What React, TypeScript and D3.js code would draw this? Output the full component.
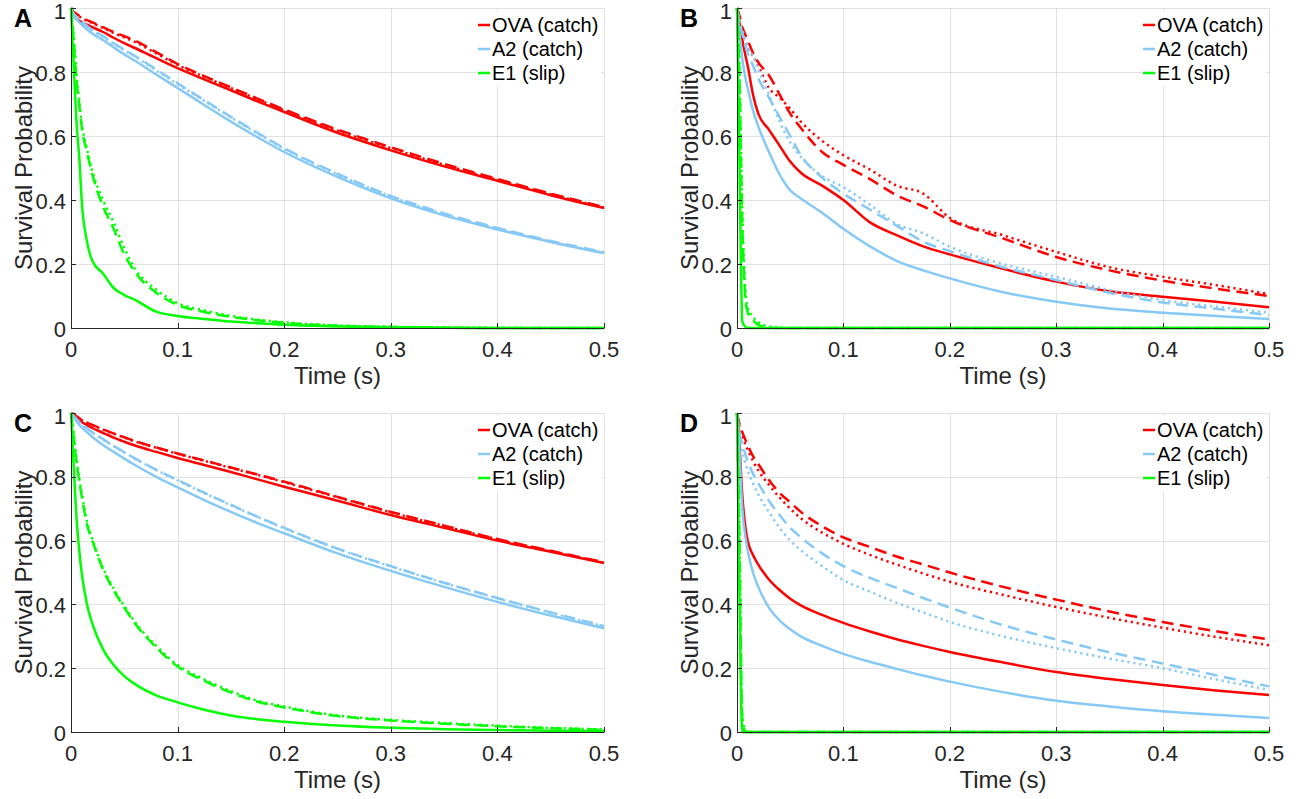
import React from 'react';
import * as d3 from 'd3';

// ---------- DATA ----------
const TIME = [0, 0.002, 0.005, 0.008, 0.01, 0.015, 0.02, 0.03, 0.04, 0.05, 0.06, 0.08, 0.1, 0.125, 0.15, 0.175, 0.2, 0.25, 0.3, 0.35, 0.4, 0.45, 0.5];
const X_TICKS = [0, 0.1, 0.2, 0.3, 0.4, 0.5];
const Y_TICKS = [0, 0.2, 0.4, 0.6, 0.8, 1];
const X_TICK_LABELS = ['0', '0.1', '0.2', '0.3', '0.4', '0.5'];
const Y_TICK_LABELS = ['0', '0.2', '0.4', '0.6', '0.8', '1'];
const PANEL_LETTERS = ['A', 'B', 'C', 'D'];
const LEGEND_LABELS = ['OVA (catch)', 'A2 (catch)', 'E1 (slip)'];
const SERIES_COLORS = ['#ff0000', '#86c9f6', '#00ff00'];
const X_LABEL = 'Time (s)';
const Y_LABEL = 'Survival Probability';

// Panel A
const A_OVA_SOLID = [1, 0.98, 0.968, 0.96, 0.955, 0.948, 0.94, 0.925, 0.907, 0.89, 0.875, 0.843, 0.812, 0.777, 0.743, 0.708, 0.675, 0.61, 0.555, 0.505, 0.46, 0.415, 0.375];
const A_OVA_DASH = [1, 0.99, 0.982, 0.975, 0.97, 0.962, 0.955, 0.94, 0.925, 0.912, 0.898, 0.862, 0.825, 0.787, 0.752, 0.717, 0.683, 0.62, 0.565, 0.513, 0.466, 0.42, 0.378];
const A_OVA_DOT = [1, 0.99, 0.98, 0.973, 0.968, 0.96, 0.953, 0.938, 0.922, 0.908, 0.894, 0.858, 0.822, 0.785, 0.75, 0.715, 0.68, 0.617, 0.562, 0.51, 0.463, 0.418, 0.376];
const A_A2_SOLID = [1, 0.98, 0.965, 0.955, 0.948, 0.933, 0.92, 0.9, 0.877, 0.855, 0.835, 0.792, 0.75, 0.697, 0.645, 0.596, 0.55, 0.472, 0.405, 0.352, 0.308, 0.269, 0.234];
const A_A2_DASH = [1, 0.985, 0.972, 0.963, 0.957, 0.944, 0.932, 0.912, 0.89, 0.87, 0.85, 0.808, 0.765, 0.712, 0.66, 0.61, 0.562, 0.482, 0.413, 0.358, 0.313, 0.272, 0.237];
const A_A2_DOT = [1, 0.985, 0.97, 0.96, 0.955, 0.942, 0.93, 0.91, 0.888, 0.868, 0.848, 0.805, 0.762, 0.71, 0.658, 0.608, 0.56, 0.48, 0.411, 0.356, 0.311, 0.27, 0.235];
const A_E1_SOLID = [1, 0.86, 0.65, 0.52, 0.4, 0.27, 0.21, 0.17, 0.125, 0.103, 0.088, 0.051, 0.0375, 0.028, 0.02, 0.015, 0.01, 0.005, 0.002, 0.001, 0, 0, 0];
const A_E1_DASH = [1, 0.92, 0.78, 0.69, 0.63, 0.55, 0.48, 0.38, 0.31, 0.23, 0.175, 0.11, 0.072, 0.05, 0.035, 0.024, 0.016, 0.007, 0.003, 0.001, 0, 0, 0];
const A_E1_DOT = [1, 0.93, 0.8, 0.7, 0.64, 0.56, 0.49, 0.4, 0.33, 0.25, 0.185, 0.12, 0.078, 0.055, 0.038, 0.026, 0.018, 0.008, 0.004, 0.002, 0.001, 0, 0];

// Panel B
const B_OVA_SOLID = [1, 0.96, 0.9, 0.85, 0.82, 0.73, 0.67, 0.62, 0.57, 0.52, 0.485, 0.445, 0.4, 0.33, 0.29, 0.255, 0.23, 0.185, 0.145, 0.115, 0.098, 0.082, 0.065];
const B_OVA_DASH = [1, 0.98, 0.94, 0.915, 0.9, 0.86, 0.83, 0.79, 0.73, 0.67, 0.625, 0.55, 0.51, 0.465, 0.415, 0.38, 0.3375, 0.28, 0.222, 0.18, 0.148, 0.123, 0.1];
const B_OVA_DOT = [1, 0.97, 0.93, 0.9, 0.88, 0.85, 0.82, 0.75, 0.72, 0.685, 0.645, 0.585, 0.54, 0.495, 0.445, 0.42, 0.344, 0.29, 0.238, 0.19, 0.16, 0.134, 0.106];
const B_A2_SOLID = [1, 0.93, 0.84, 0.78, 0.75, 0.68, 0.63, 0.55, 0.48, 0.43, 0.405, 0.36, 0.31, 0.255, 0.21, 0.18, 0.155, 0.112, 0.082, 0.061, 0.048, 0.0375, 0.028];
const B_A2_DASH = [1, 0.96, 0.92, 0.88, 0.86, 0.82, 0.78, 0.72, 0.66, 0.6, 0.54, 0.47, 0.42, 0.37, 0.32, 0.27, 0.24, 0.19, 0.15, 0.11, 0.08, 0.06, 0.04];
const B_A2_DOT = [1, 0.97, 0.93, 0.9, 0.88, 0.85, 0.81, 0.73, 0.645, 0.58, 0.535, 0.475, 0.44, 0.385, 0.325, 0.296, 0.254, 0.2, 0.16, 0.119, 0.0875, 0.067, 0.048];
const B_E1_SOLID = [1, 0.6, 0.02, 0.003, 0, 0, 0, 0, 0, 0, 0, 0, 0, 0, 0, 0, 0, 0, 0, 0, 0, 0, 0];
const B_E1_DASH = [1, 0.82, 0.32, 0.09, 0.05, 0.025, 0.01, 0.002, 0, 0, 0, 0, 0, 0, 0, 0, 0, 0, 0, 0, 0, 0, 0];
const B_E1_DOT = [1, 0.85, 0.36, 0.11, 0.065, 0.035, 0.018, 0.005, 0.001, 0, 0, 0, 0, 0, 0, 0, 0, 0, 0, 0, 0, 0, 0];

// Panel C
const C_OVA_SOLID = [1, 0.995, 0.985, 0.977, 0.972, 0.962, 0.953, 0.938, 0.923, 0.91, 0.898, 0.878, 0.859, 0.837, 0.815, 0.792, 0.769, 0.725, 0.68, 0.64, 0.6, 0.565, 0.53];
const C_OVA_DASH = [1, 0.997, 0.99, 0.983, 0.979, 0.97, 0.963, 0.949, 0.936, 0.924, 0.912, 0.892, 0.873, 0.851, 0.829, 0.807, 0.785, 0.737, 0.69, 0.647, 0.605, 0.568, 0.532];
const C_OVA_DOT = [1, 0.997, 0.99, 0.983, 0.978, 0.969, 0.962, 0.948, 0.935, 0.923, 0.911, 0.891, 0.872, 0.85, 0.828, 0.806, 0.783, 0.736, 0.689, 0.646, 0.604, 0.567, 0.531];
const C_A2_SOLID = [1, 0.99, 0.975, 0.962, 0.955, 0.94, 0.925, 0.9, 0.878, 0.857, 0.837, 0.8, 0.767, 0.727, 0.69, 0.655, 0.623, 0.56, 0.505, 0.455, 0.408, 0.365, 0.325];
const C_A2_DASH = [1, 0.993, 0.982, 0.972, 0.966, 0.952, 0.94, 0.918, 0.897, 0.877, 0.858, 0.822, 0.79, 0.75, 0.712, 0.675, 0.64, 0.575, 0.52, 0.468, 0.42, 0.375, 0.332];
const C_A2_DOT = [1, 0.993, 0.981, 0.971, 0.965, 0.951, 0.939, 0.917, 0.896, 0.876, 0.857, 0.821, 0.789, 0.749, 0.711, 0.674, 0.639, 0.574, 0.519, 0.467, 0.419, 0.374, 0.331];
const C_E1_SOLID = [1, 0.87, 0.68, 0.56, 0.5, 0.4, 0.34, 0.26, 0.21, 0.175, 0.15, 0.115, 0.093, 0.07, 0.052, 0.04, 0.032, 0.02, 0.013, 0.009, 0.006, 0.004, 0.003];
const C_E1_DASH = [1, 0.94, 0.85, 0.78, 0.74, 0.65, 0.6, 0.51, 0.445, 0.39, 0.34, 0.265, 0.205, 0.16, 0.124, 0.095, 0.077, 0.05, 0.036, 0.026, 0.018, 0.012, 0.007];
const C_E1_DOT = [1, 0.95, 0.86, 0.79, 0.75, 0.66, 0.605, 0.515, 0.45, 0.395, 0.345, 0.27, 0.21, 0.165, 0.128, 0.098, 0.08, 0.052, 0.038, 0.028, 0.02, 0.013, 0.008];

// Panel D
const D_OVA_SOLID = [1, 0.92, 0.74, 0.64, 0.6, 0.555, 0.525, 0.478, 0.445, 0.418, 0.397, 0.367, 0.342, 0.315, 0.291, 0.27, 0.251, 0.218, 0.188, 0.166, 0.147, 0.13, 0.116];
const D_OVA_DASH = [1, 0.97, 0.94, 0.915, 0.9, 0.865, 0.84, 0.79, 0.75, 0.72, 0.69, 0.645, 0.61, 0.58, 0.55, 0.525, 0.5, 0.455, 0.415, 0.378, 0.345, 0.316, 0.29];
const D_OVA_DOT = [1, 0.96, 0.93, 0.9, 0.885, 0.85, 0.82, 0.775, 0.735, 0.7, 0.67, 0.625, 0.59, 0.555, 0.525, 0.497, 0.471, 0.43, 0.392, 0.358, 0.327, 0.298, 0.272];
const D_A2_SOLID = [1, 0.9, 0.7, 0.61, 0.57, 0.5, 0.455, 0.39, 0.35, 0.322, 0.3, 0.27, 0.245, 0.22, 0.198, 0.177, 0.158, 0.125, 0.098, 0.08, 0.065, 0.054, 0.044];
const D_A2_DASH = [1, 0.95, 0.9, 0.87, 0.85, 0.81, 0.78, 0.725, 0.68, 0.64, 0.61, 0.56, 0.52, 0.483, 0.452, 0.42, 0.39, 0.335, 0.29, 0.25, 0.215, 0.178, 0.143];
const D_A2_DOT = [1, 0.94, 0.88, 0.84, 0.82, 0.78, 0.745, 0.69, 0.64, 0.6, 0.57, 0.52, 0.476, 0.44, 0.405, 0.375, 0.345, 0.3, 0.263, 0.23, 0.2, 0.165, 0.132];
const D_E1_SOLID = [1, 0.5, 0, 0, 0, 0, 0, 0, 0, 0, 0, 0, 0, 0, 0, 0, 0, 0, 0, 0, 0, 0, 0];
const D_E1_DASH = [1, 0.65, 0.04, 0, 0, 0, 0, 0, 0, 0, 0, 0, 0, 0, 0, 0, 0, 0, 0, 0, 0, 0, 0];
const D_E1_DOT = [1, 0.7, 0.05, 0.005, 0, 0, 0, 0, 0, 0, 0, 0, 0, 0, 0, 0, 0, 0, 0, 0, 0, 0, 0];

// ---------- LAYOUT ----------
const PANELS = [
  { letter: PANEL_LETTERS[0], left: 71, right: 604, top: 8, bottom: 328,
    series: [[A_OVA_SOLID, A_OVA_DASH, A_OVA_DOT], [A_A2_SOLID, A_A2_DASH, A_A2_DOT], [A_E1_SOLID, A_E1_DASH, A_E1_DOT]] },
  { letter: PANEL_LETTERS[1], left: 737, right: 1269, top: 8, bottom: 328,
    series: [[B_OVA_SOLID, B_OVA_DASH, B_OVA_DOT], [B_A2_SOLID, B_A2_DASH, B_A2_DOT], [B_E1_SOLID, B_E1_DASH, B_E1_DOT]] },
  { letter: PANEL_LETTERS[2], left: 71, right: 604, top: 413, bottom: 732,
    series: [[C_OVA_SOLID, C_OVA_DASH, C_OVA_DOT], [C_A2_SOLID, C_A2_DASH, C_A2_DOT], [C_E1_SOLID, C_E1_DASH, C_E1_DOT]] },
  { letter: PANEL_LETTERS[3], left: 737, right: 1269, top: 413, bottom: 732,
    series: [[D_OVA_SOLID, D_OVA_DASH, D_OVA_DOT], [D_A2_SOLID, D_A2_DASH, D_A2_DOT], [D_E1_SOLID, D_E1_DASH, D_E1_DOT]] },
];

const DASHES = [null, '12,6.5', '2.2,3.8'];
const FONT = "'Liberation Sans', Arial, Helvetica, sans-serif";
const AXIS_COLOR = '#262626';
const GRID_COLOR = '#e2e2e2';
const LW = 2.5;

function Panel({ p }: { p: any }) {
  const x = d3.scaleLinear().domain([0, 0.5]).range([p.left, p.right]);
  const y = d3.scaleLinear().domain([0, 1]).range([p.bottom, p.top]);
  const line = d3.line<number>()
    .x((_, i) => x(TIME[i]))
    .y((d) => y(d))
    .curve(d3.curveMonotoneX);
  const midY = (p.top + p.bottom) / 2;
  const midX = (p.left + p.right) / 2;
  const lgX = p.right - 126;
  const lgY = p.top + 17;
  return (
    <g>
      {/* grid */}
      {X_TICKS.map((t) => (
        <line key={'gx' + t} x1={Math.round(x(t)) + 0.5} x2={Math.round(x(t)) + 0.5} y1={p.top} y2={p.bottom} stroke={GRID_COLOR} strokeWidth={1} />
      ))}
      {Y_TICKS.map((t) => (
        <line key={'gy' + t} x1={p.left} x2={p.right} y1={Math.round(y(t)) + 0.5} y2={Math.round(y(t)) + 0.5} stroke={GRID_COLOR} strokeWidth={1} />
      ))}
      {/* lines */}
      {p.series.map((group: number[][], si: number) =>
        group.map((vals: number[], k: number) => (
          <path key={'s' + si + '-' + k} d={line(vals) || ''} fill="none" stroke={SERIES_COLORS[si]}
            strokeWidth={LW} strokeDasharray={DASHES[k] || undefined} strokeLinejoin="round" />
        ))
      )}
      {/* axes */}
      <line x1={p.left + 0.5} x2={p.left + 0.5} y1={p.top} y2={p.bottom + 0.5} stroke={AXIS_COLOR} strokeWidth={1} />
      <line x1={p.left} x2={p.right + 0.5} y1={p.bottom + 0.5} y2={p.bottom + 0.5} stroke={AXIS_COLOR} strokeWidth={1} />
      {X_TICKS.map((t) => (
        <line key={'tx' + t} x1={Math.round(x(t)) + 0.5} x2={Math.round(x(t)) + 0.5} y1={p.bottom} y2={p.bottom - 5} stroke={AXIS_COLOR} strokeWidth={1} />
      ))}
      {Y_TICKS.map((t) => (
        <line key={'ty' + t} x1={p.left} x2={p.left + 5} y1={Math.round(y(t)) + 0.5} y2={Math.round(y(t)) + 0.5} stroke={AXIS_COLOR} strokeWidth={1} />
      ))}
      {/* tick labels */}
      {X_TICKS.map((t, i) => (
        <text key={'lx' + t} x={x(t)} y={p.bottom + 21} textAnchor="middle" dominantBaseline="central"
          fontFamily={FONT} fontSize={22} fill={AXIS_COLOR}>{X_TICK_LABELS[i]}</text>
      ))}
      {Y_TICKS.map((t, i) => (
        <text key={'ly' + t} x={p.left - 5} y={Math.max(y(t) + 1, p.top + 3)} textAnchor="end" dominantBaseline="central"
          fontFamily={FONT} fontSize={22} fill={AXIS_COLOR}>{Y_TICK_LABELS[i]}</text>
      ))}
      {/* axis labels */}
      <text x={midX} y={p.bottom + 47} textAnchor="middle" dominantBaseline="central"
        fontFamily={FONT} fontSize={24} fill={AXIS_COLOR}>{X_LABEL}</text>
      <text transform={`translate(${p.left - 48},${midY}) rotate(-90)`} textAnchor="middle" dominantBaseline="central"
        fontFamily={FONT} fontSize={24} fill={AXIS_COLOR}>{Y_LABEL}</text>
      {/* panel letter */}
      <text x={p.left - 57} y={p.top + 10} dominantBaseline="central" fontFamily={FONT} fontSize={25}
        fontWeight="bold" fill="#000">{p.letter}</text>
      {/* legend */}
      <rect x={lgX - 2} y={p.top + 3} width={125} height={75} fill="#fff" />
      {LEGEND_LABELS.map((lab, i) => (
        <g key={'lg' + i}>
          <line x1={lgX} x2={lgX + 12} y1={lgY + i * 24} y2={lgY + i * 24} stroke={SERIES_COLORS[i]} strokeWidth={LW} />
          <text x={lgX + 14} y={lgY + i * 24} dominantBaseline="central" fontFamily={FONT} fontSize={20} fill="#000">{lab}</text>
        </g>
      ))}
    </g>
  );
}

export default function App() {
  return (
    <div style={{ position: 'absolute', left: 0, top: 0 }}>
      <svg width={1300} height={799} style={{ display: 'block', background: '#fff' }}>
        <rect x={0} y={0} width={1300} height={799} fill="#fff" />
        {PANELS.map((p) => <Panel key={p.letter} p={p} />)}
      </svg>
    </div>
  );
}
